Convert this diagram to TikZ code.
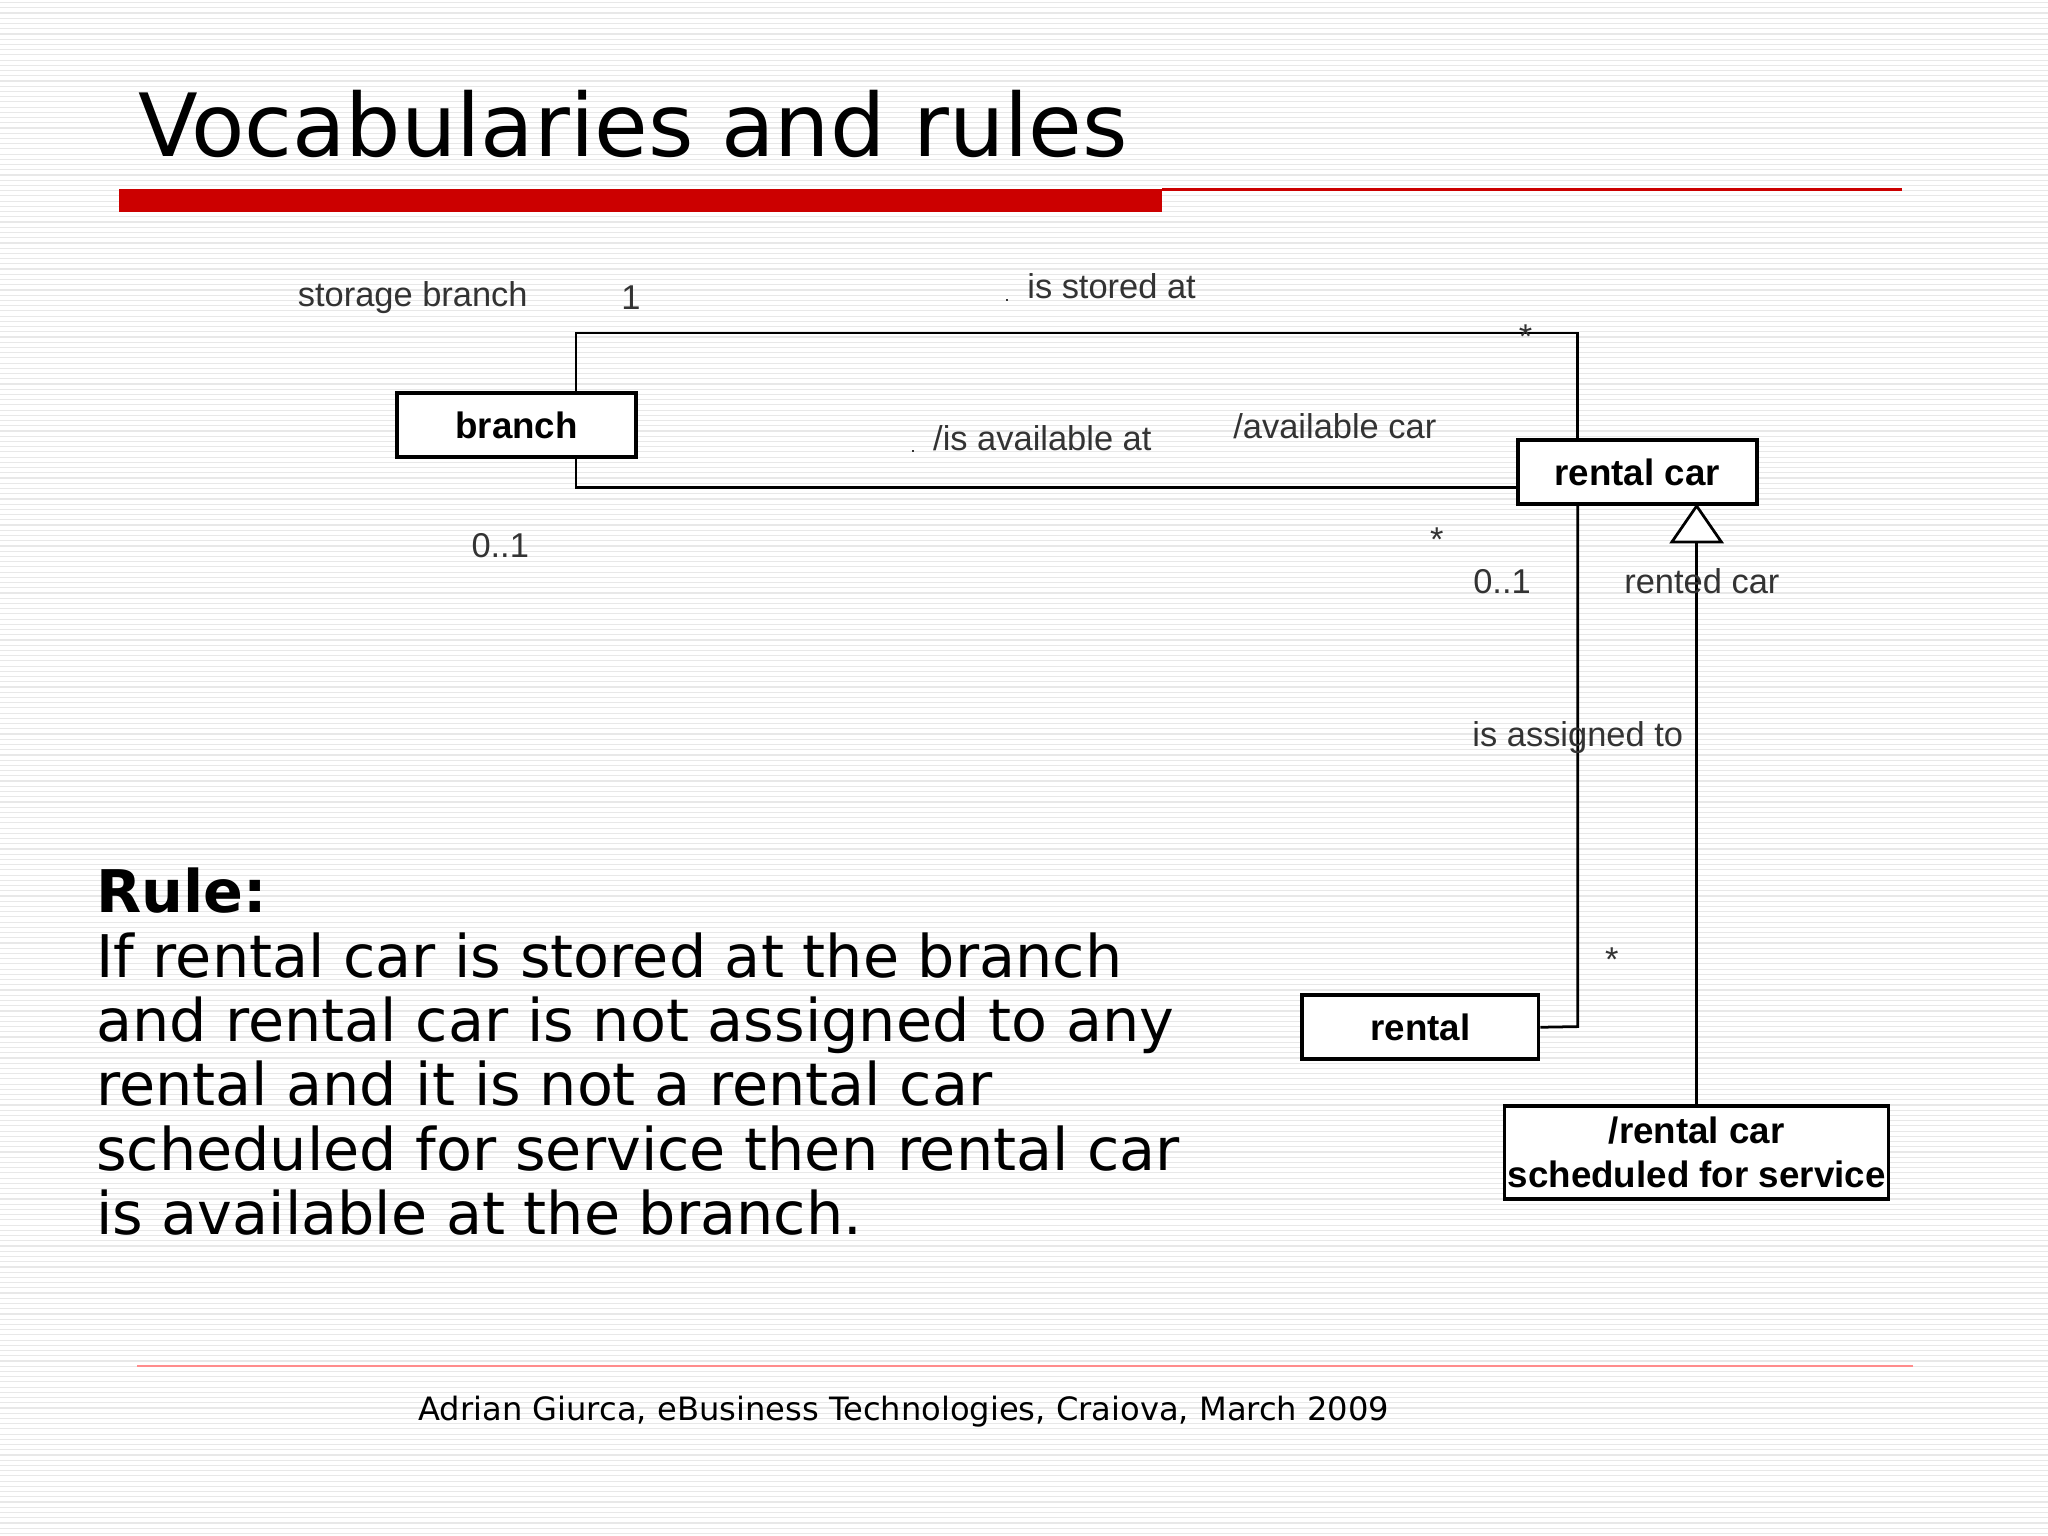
\documentclass[tikz,border=0pt]{standalone}
\usepackage{fontspec}
\usetikzlibrary{calc}
\setmainfont{DejaVu Sans}
\newfontfamily\arial{Liberation Sans}
\begin{document}
\begin{tikzpicture}[x=0.01cm,y=-0.01cm,
  cls/.style={draw,thick,fill=white,font=\arial\bfseries\fontsize{8}{9.5}\selectfont,inner sep=0pt,align=center},
  lab/.style={font=\arial\fontsize{7.5}{9}\selectfont,text=black!80,inner sep=0pt},
  conn/.style={line width=0.6pt}]
\useasboundingbox (0,0) rectangle (1568,1176);
\fill[white] (0,0) rectangle (1568,1176);
\foreach \y in {2,6,...,1176} \draw[black!9,line width=0.25pt] (0,\y) -- (1568,\y);
% title
\node[anchor=base west,inner sep=0pt,font=\fontsize{19}{22}\selectfont] (title) at (105,120) {Vocabularies and rules};
\fill[red!80!black] (91,145) rectangle (890,162);
\draw[red!80!black,line width=0.6pt] (890,145) -- (1456,145);
% classes
\node[cls,minimum width=183*0.01cm,minimum height=49*0.01cm] (branch) at (395.5,325.5) {branch};
\node[cls,minimum width=183*0.01cm,minimum height=49*0.01cm] (rc) at (1253.5,361.5) {rental car};
\node[cls,minimum width=181*0.01cm,minimum height=49*0.01cm] (rental) at (1087.5,786.5) {rental};
\node[cls,minimum width=294*0.01cm,minimum height=71*0.01cm] (sched) at (1299,882.5) {/rental car\\scheduled for service};
% connectors
\coordinate (a1) at (441,255); \coordinate (a2) at (1208,255);
\draw[conn] (branch.north -| a1) -- (a1) -- (a2) -- (rc.north -| a2);
\coordinate (b1) at (441,373);
\draw[conn] (branch.south -| b1) -- (b1) -- (rc.west |- b1);
\coordinate (c1) at (1208,786);
\draw[conn] (rc.south -| c1) -- (c1) -- (rental.east);
\coordinate (tb) at (1299,415);
\draw[conn] (sched.north -| tb) -- (tb);
\draw[conn,fill=white] ($(tb)+(-19,0)$) -- (rc.south -| tb) -- ($(tb)+(19,0)$) -- cycle;
% labels
\node[lab] (l1) at (316,228) {storage branch};
\node[lab] (l2) at (483,228) {1};
\node[lab] (l3) at (843,220) {\raisebox{-0.5pt}{\tikz\draw[line width=0.4pt] (0,0) rectangle (0.08,0.14);}\ \ is stored at};
\node[lab] (l4) at (1168,258) {*};
\node[lab] (l5) at (790,336) {\raisebox{-0.5pt}{\tikz\draw[line width=0.4pt] (0,0) rectangle (0.08,0.14);}\ \ /is available at};
\node[lab] (l6) at (1022,326) {/available car};
\node[lab] (l7) at (383,418) {0..1};
\node[lab] (l8) at (1100,413) {*};
\node[lab] (l9) at (1150,445) {0..1};
\node[lab] (l10) at (1303,445) {rented car};
\node[lab] (l11) at (1208,565) {is assigned to};
\node[lab] (l12) at (1234,735) {*};
% rule
\node[anchor=north west,inner sep=0pt,align=left,font=\fontsize{12.8}{14}\selectfont] (rule) at (73,664)
 {\textbf{Rule:}\\If rental car is stored at the branch\\and rental car is not assigned to any\\rental and it is not a rental car\\scheduled for service then rental car\\is available at the branch.};
% footer
\draw[red!45,line width=0.4pt] (105,1046) -- (1465,1046);
\node[inner sep=0pt,font=\fontsize{7}{8}\selectfont] (foot) at (692,1081) {Adrian Giurca, eBusiness Technologies, Craiova, March 2009};
\end{tikzpicture}
\end{document}
